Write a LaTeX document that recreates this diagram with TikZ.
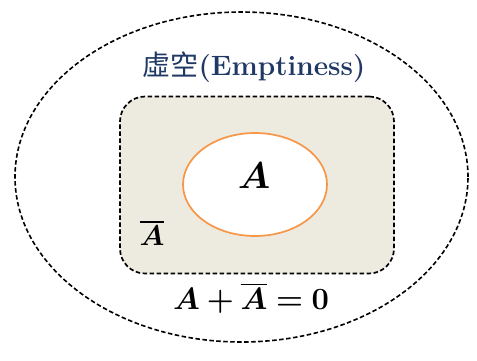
\documentclass[tikz,border=0pt]{standalone}
\usepackage{amsmath}
\usepackage{bm}
\usepackage{fontspec}
\newfontfamily\cjk{Noto Sans CJK TC}
\usetikzlibrary{positioning, shapes.geometric}
\definecolor{titleblue}{HTML}{203864}
\definecolor{paper}{HTML}{EDEBE0}
\definecolor{setorange}{HTML}{F79646}
% math in the largest size, blown up
\newcommand{\bigmath}[2]{\scalebox{#1}{\Huge$#2$}}

\begin{document}
\begin{tikzpicture}[x=1pt, y=-1pt,
		% Define styles for the regions
		voidshape/.style={
			ellipse, draw=black, dash pattern=on 4.5pt off 2.5pt, line width=1.6pt, inner sep=0pt,
			minimum width=453pt, minimum height=330pt
		},
		restbox/.style={
			rectangle, rounded corners=25pt, draw=black, dash pattern=on 4.5pt off 2.5pt, line width=1.7pt,
			fill=paper, inner sep=0pt, minimum width=274pt, minimum height=177pt
		},
		setshape/.style={
			ellipse, draw=setorange, fill=white, line width=1.7pt, inner sep=0pt,
			minimum width=144pt, minimum height=103pt
		},
		mathlabel/.style={inner sep=0pt}
		]
		\useasboundingbox (0,0) rectangle (477,360);
		
		% Define the regions
		\node[voidshape] (emptiness) at (241.5,177) {};
		\node[restbox] (complement) at (257,185) {};
		\node[setshape] (setA) at (255,184.5) {};
		
		% Place the labels
		\node[inner sep=0pt, text=titleblue, font=\fontsize{28}{32}\selectfont\bfseries] (title) at (254,67) {{\cjk\mdseries 虛空}(Emptiness)};
		\node[mathlabel] (labelA) at (254,176) {\bigmath{1.5}{\bm{A}}};
		\node[mathlabel] (labelnotA) at (152,233) {\bigmath{1.15}{\overline{\bm{A}}}};
		\node[mathlabel] (sumzero) at (251,298) {\bigmath{1.24}{\bm{A+\overline{A}=0}}};
		
	\end{tikzpicture}
\end{document}
